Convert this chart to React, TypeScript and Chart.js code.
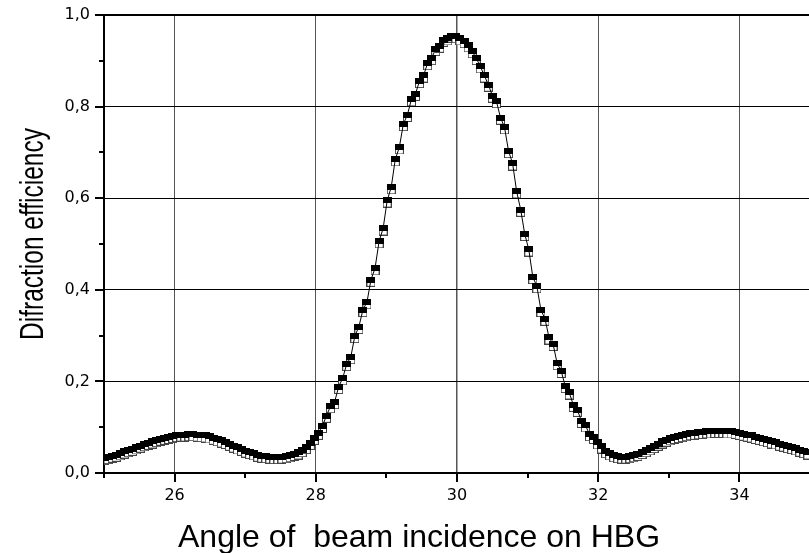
import { useEffect, useRef } from 'react';
import { Chart, registerables } from 'chart.js';

Chart.register(...registerables);

// Angle grid (degrees): first sample and sample spacing
const ANGLE_START = 25;
const ANGLE_STEP = 0.0573;

// Diffraction efficiency, filled-square series
const efficiencyFilled = [
  0.033, 0.035, 0.038, 0.040, 0.043, 0.047, 0.050, 0.053, 0.056, 0.060,
  0.063, 0.066, 0.069, 0.072, 0.075, 0.077, 0.079, 0.081, 0.083, 0.084,
  0.084, 0.085, 0.085, 0.084, 0.083, 0.082, 0.080, 0.077, 0.074, 0.071,
  0.068, 0.064, 0.060, 0.056, 0.053, 0.049, 0.046, 0.043, 0.040, 0.038,
  0.037, 0.036, 0.035, 0.035, 0.036, 0.037, 0.039, 0.042, 0.045, 0.050,
  0.057, 0.066, 0.077, 0.088, 0.103, 0.125, 0.146, 0.155, 0.188, 0.207,
  0.238, 0.253, 0.299, 0.319, 0.356, 0.373, 0.422, 0.447, 0.506, 0.534,
  0.595, 0.624, 0.685, 0.711, 0.762, 0.782, 0.816, 0.828, 0.856, 0.868,
  0.895, 0.906, 0.926, 0.933, 0.946, 0.949, 0.955, 0.954, 0.949, 0.943,
  0.934, 0.921, 0.906, 0.888, 0.868, 0.848, 0.824, 0.812, 0.776, 0.755,
  0.703, 0.676, 0.615, 0.575, 0.522, 0.488, 0.428, 0.408, 0.356, 0.337,
  0.296, 0.282, 0.240, 0.223, 0.190, 0.176, 0.149, 0.138, 0.114, 0.104,
  0.085, 0.079, 0.067, 0.058, 0.048, 0.043, 0.039, 0.037, 0.036, 0.036,
  0.037, 0.039, 0.042, 0.046, 0.050, 0.054, 0.059, 0.064, 0.069, 0.073,
  0.076, 0.079, 0.081, 0.083, 0.085, 0.087, 0.088, 0.089, 0.090, 0.091,
  0.091, 0.092, 0.092, 0.092, 0.091, 0.091, 0.090, 0.088, 0.086, 0.084,
  0.082, 0.079, 0.077, 0.074, 0.072, 0.069, 0.067, 0.064, 0.062, 0.059,
  0.057, 0.054, 0.051, 0.048, 0.045,
];

// Diffraction efficiency, open-square series
const efficiencyOpen = [
  0.024, 0.026, 0.029, 0.031, 0.034, 0.038, 0.041, 0.044, 0.047, 0.051,
  0.054, 0.057, 0.060, 0.063, 0.066, 0.068, 0.070, 0.072, 0.074, 0.075,
  0.075, 0.076, 0.076, 0.075, 0.074, 0.073, 0.071, 0.068, 0.065, 0.062,
  0.059, 0.055, 0.051, 0.047, 0.044, 0.040, 0.037, 0.034, 0.031, 0.029,
  0.028, 0.027, 0.026, 0.026, 0.027, 0.028, 0.030, 0.033, 0.036, 0.041,
  0.048, 0.057, 0.068, 0.079, 0.094, 0.116, 0.137, 0.146, 0.179, 0.198,
  0.229, 0.244, 0.290, 0.310, 0.347, 0.364, 0.413, 0.438, 0.497, 0.525,
  0.586, 0.615, 0.676, 0.702, 0.753, 0.773, 0.807, 0.819, 0.847, 0.859,
  0.886, 0.897, 0.917, 0.924, 0.937, 0.940, 0.946, 0.945, 0.940, 0.934,
  0.925, 0.912, 0.897, 0.879, 0.859, 0.839, 0.815, 0.803, 0.767, 0.746,
  0.694, 0.667, 0.606, 0.566, 0.513, 0.479, 0.419, 0.399, 0.347, 0.328,
  0.287, 0.273, 0.231, 0.214, 0.181, 0.167, 0.140, 0.129, 0.105, 0.095,
  0.076, 0.070, 0.058, 0.049, 0.039, 0.034, 0.030, 0.028, 0.027, 0.027,
  0.028, 0.030, 0.033, 0.037, 0.041, 0.045, 0.050, 0.055, 0.060, 0.064,
  0.067, 0.070, 0.072, 0.074, 0.076, 0.078, 0.079, 0.080, 0.081, 0.082,
  0.082, 0.083, 0.083, 0.083, 0.082, 0.082, 0.081, 0.079, 0.077, 0.075,
  0.073, 0.070, 0.068, 0.065, 0.063, 0.060, 0.058, 0.055, 0.053, 0.050,
  0.048, 0.045, 0.042, 0.039, 0.036,
];

const xTickValues = [26, 28, 30, 32, 34];
const xTickLabels = ['26', '28', '30', '32', '34'];
const yTickValues = [0, 0.2, 0.4, 0.6, 0.8, 1.0];
const yTickLabels = ['0,0', '0,2', '0,4', '0,6', '0,8', '1,0'];
const X_MIN = 25;
const X_MAX = 35;
const Y_MIN = 0;
const Y_MAX = 1;

const xTitle = 'Angle of  beam incidence on HBG';
const yTitle = 'Difraction efficiency';

const FONT = '"Liberation Sans", Arial, Helvetica, sans-serif';
const TICK_FONT = '"DejaVu Sans", Verdana, sans-serif';

function labelFor(values: number[], labels: string[], v: number): string {
  for (let i = 0; i < values.length; i++) {
    if (Math.abs(values[i] - v) < 1e-6) return labels[i];
  }
  return '';
}

function makeMarker(fill: string, stroke: string) {
  const c = document.createElement('canvas');
  c.width = 9;
  c.height = 6;
  const g = c.getContext('2d')!;
  g.fillStyle = fill;
  g.fillRect(0, 0, 9, 6);
  g.strokeStyle = stroke;
  g.lineWidth = 1;
  g.strokeRect(0.5, 0.5, 8, 5);
  return c;
}

export default function App() {
  const canvasRef = useRef<HTMLCanvasElement | null>(null);

  useEffect(() => {
    const canvas = canvasRef.current;
    if (!canvas) return;

    const filledPts = efficiencyFilled.map((v, i) => ({ x: ANGLE_START + i * ANGLE_STEP, y: v }));
    const openPts = efficiencyOpen.map((v, i) => ({ x: ANGLE_START + i * ANGLE_STEP, y: v }));

    const filledMarker = makeMarker('#000000', '#000000');
    const openMarker = makeMarker('#ffffff', '#444444');

    const decor = {
      id: 'decor',
      afterDraw(chart: any) {
        const { ctx, chartArea } = chart;
        const xs = chart.scales.x;
        const ys = chart.scales.y;
        ctx.save();
        ctx.strokeStyle = '#000';
        ctx.lineWidth = 2;
        // x tick marks (major at labelled ticks, minor in between)
        for (let v = X_MIN; v <= X_MAX; v += 1) {
          const px = Math.round(xs.getPixelForValue(v));
          const major = labelFor(xTickValues, xTickLabels, v) !== '';
          ctx.beginPath();
          ctx.moveTo(px, chartArea.bottom);
          ctx.lineTo(px, chartArea.bottom + (major ? 9 : 5));
          ctx.stroke();
        }
        for (let k = 0; k <= 10; k++) {
          const v = k / 10;
          const py = Math.round(ys.getPixelForValue(v));
          const major = labelFor(yTickValues, yTickLabels, v) !== '';
          ctx.beginPath();
          ctx.moveTo(chartArea.left, py);
          ctx.lineTo(chartArea.left - (major ? 9 : 5), py);
          ctx.stroke();
        }
        // axis titles
        ctx.fillStyle = '#000';
        ctx.textBaseline = 'alphabetic';
        ctx.font = `32px ${FONT}`;
        ctx.textAlign = 'left';
        ctx.fillText(xTitle, chartArea.left + 74, chartArea.bottom + 74);

        ctx.translate(43, (chartArea.top + chartArea.bottom) / 2 - 10);
        ctx.rotate(-Math.PI / 2);
        ctx.scale(0.72, 1);
        ctx.font = `34px ${FONT}`;
        ctx.textAlign = 'center';
        ctx.fillText(yTitle, 0, 0);
        ctx.restore();
      },
    };

    const chart = new Chart(canvas, {
      type: 'line',
      data: {
        datasets: [
          {
            label: 'filled',
            data: filledPts,
            borderColor: '#000000',
            borderWidth: 1,
            pointStyle: filledMarker as any,
            pointRadius: 4,
            showLine: true,
            fill: false,
          },
          {
            label: 'open',
            data: openPts,
            borderColor: '#444444',
            borderWidth: 0,
            pointStyle: openMarker as any,
            pointRadius: 4,
            showLine: false,
            fill: false,
          },
        ],
      },
      plugins: [decor],
      options: {
        animation: false,
        responsive: false,
        devicePixelRatio: 1,
        layout: { padding: { top: 15, right: 1, left: 0, bottom: 0 } },
        plugins: {
          legend: { display: false },
          tooltip: { enabled: false },
          title: { display: false },
        },
        scales: {
          x: {
            type: 'linear',
            min: X_MIN,
            max: X_MAX,
            afterFit(scale: any) {
              scale.height = 80;
              scale.paddingLeft = 0;
              scale.paddingRight = 0;
            },
            border: { display: true, color: '#000', width: 2 },
            grid: {
              drawTicks: false,
              color: (c: any) => {
                const v = c.tick ? c.tick.value : 0;
                return labelFor(xTickValues, xTickLabels, v) !== '' ? '#555555' : 'rgba(0,0,0,0)';
              },
              lineWidth: (c: any) => {
                const v = c.tick ? c.tick.value : 0;
                return Math.abs(v - 30) < 1e-6 ? 1.5 : 1;
              },
            },
            ticks: {
              stepSize: 1,
              autoSkip: false,
              maxRotation: 0,
              padding: 13,
              color: '#000',
              font: { family: TICK_FONT, size: 16 },
              callback: (v: any) => labelFor(xTickValues, xTickLabels, Number(v)),
            },
          },
          y: {
            type: 'linear',
            min: Y_MIN,
            max: Y_MAX,
            afterFit(scale: any) {
              scale.width = 104;
              scale.paddingTop = 0;
              scale.paddingBottom = 0;
            },
            border: { display: true, color: '#000', width: 2 },
            grid: {
              drawTicks: false,
              color: (c: any) => {
                const v = c.tick ? c.tick.value : 0;
                if (Math.abs(v) < 1e-6) return 'rgba(0,0,0,0)';
                return labelFor(yTickValues, yTickLabels, v) !== '' ? '#000000' : 'rgba(0,0,0,0)';
              },
              lineWidth: (c: any) => {
                const v = c.tick ? c.tick.value : 0;
                return Math.abs(v - 1) < 1e-6 ? 2 : 1;
              },
            },
            ticks: {
              stepSize: 0.1,
              autoSkip: false,
              padding: 14,
              color: '#000',
              font: { family: TICK_FONT, size: 16 },
              callback: (v: any) => labelFor(yTickValues, yTickLabels, Number(v)),
            },
          },
        },
      },
    });

    return () => {
      chart.destroy();
    };
  }, []);

  return (
    <div
      style={{
        position: 'fixed',
        left: 0,
        top: 0,
        width: 809,
        height: 553,
        overflow: 'hidden',
        background: '#ffffff',
      }}
    >
      <canvas ref={canvasRef} width={815} height={553} style={{ display: 'block', width: 815, height: 553 }} />
    </div>
  );
}
